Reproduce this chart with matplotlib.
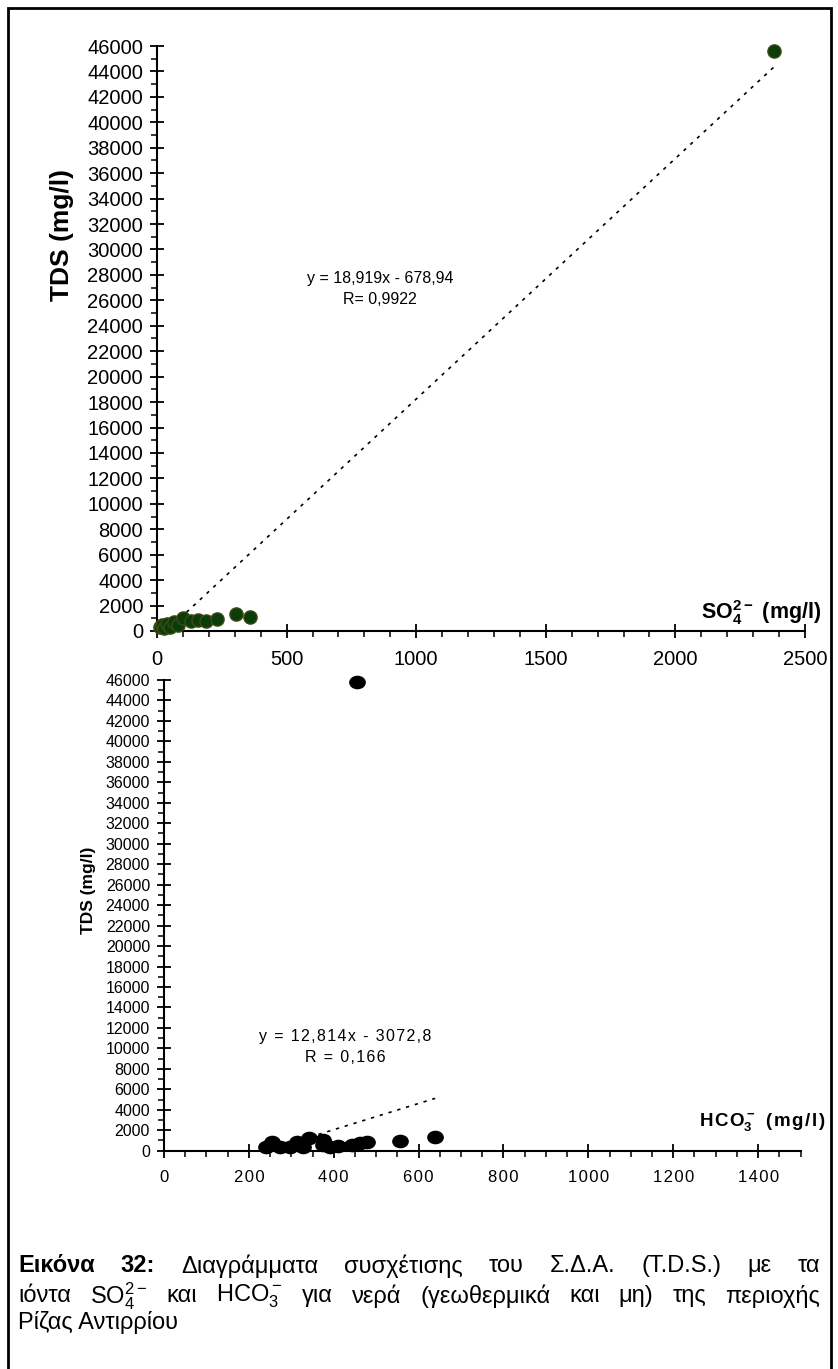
import matplotlib
matplotlib.use("Agg")
import matplotlib.pyplot as plt
from matplotlib.ticker import MultipleLocator, FuncFormatter
from matplotlib.path import Path
from matplotlib.patches import Rectangle
import numpy as np

plt.rcParams['font.family'] = ['Liberation Sans', 'DejaVu Sans']
plt.rcParams['mathtext.fontset'] = 'custom'
plt.rcParams['mathtext.rm'] = 'Liberation Sans'
plt.rcParams['mathtext.bf'] = 'Liberation Sans:bold'
plt.rcParams['mathtext.default'] = 'regular'

# ---- data: top chart (SO4 vs TDS) ----
so4 = [10, 18, 28, 40, 52, 65, 80, 100, 130, 160, 190, 230, 305, 360, 2380]
tds_so4 = [300, 450, 250, 550, 350, 700, 500, 1000, 800, 900, 750, 950, 1300, 1100, 45600]
so4_slope, so4_icpt = 18.919, -678.94
so4_eq = ["y = 18,919x - 678,94", "R= 0,9922"]

# ---- data: bottom chart (HCO3 vs TDS) ----
hco3 = [240, 254, 273, 297, 313, 328, 342, 374, 375, 391, 410, 442, 462, 478, 556, 639, 455]
tds_hco3 = [390, 880, 390, 390, 880, 390, 1240, 1050, 560, 390, 460, 590, 750, 880, 980, 1370, 45800]
hco3_slope, hco3_icpt = 12.814, -3072.8
hco3_eq = ["y = 12,814x - 3072,8", "R = 0,166"]

top_xticks = [0, 500, 1000, 1500, 2000, 2500]
bot_xticks = [0, 200, 400, 600, 800, 1000, 1200, 1400]
yticks = list(range(0, 46001, 2000))

HS = '\u200a'


def spaced(s):
    return HS.join(s)


W, H = 838, 1369
fig = plt.figure(figsize=(W / 100, H / 100), dpi=100)


def fx(x):
    return x / W


def fy(y):
    return 1 - y / H


# outer frame
fig.patches.append(Rectangle((fx(8), fy(1380)), fx(831) - fx(8), fy(8) - fy(1380),
                             transform=fig.transFigure, fill=False, lw=2, ec='black'))


def style_axes(ax, fs, xmajor, xminor, pad_x, pad_y):
    for s in ['top', 'right']:
        ax.spines[s].set_visible(False)
    for s in ['left', 'bottom']:
        ax.spines[s].set_linewidth(1.5)
    ax.yaxis.set_major_locator(MultipleLocator(2000))
    ax.yaxis.set_minor_locator(MultipleLocator(1000))
    ax.xaxis.set_major_locator(MultipleLocator(xmajor))
    ax.xaxis.set_minor_locator(MultipleLocator(xminor))
    ax.tick_params(which='major', direction='inout', length=10, width=1.3, labelsize=fs)
    ax.tick_params(which='minor', direction='out', length=4, width=1.1)
    ax.tick_params(axis='x', which='major', pad=pad_x)
    ax.tick_params(axis='y', which='major', pad=pad_y)
    ax.patch.set_alpha(0)


# ---- top chart ----
ax1 = fig.add_axes([fx(157), fy(631), fx(805) - fx(157), fy(46) - fy(631)])
ax1.set_xlim(0, 2500)
ax1.set_ylim(0, 46000)
style_axes(ax1, 14.5, 500, 100, 9, 5)
ax1.set_xticks(top_xticks)
ax1.set_yticks(yticks)
xs = np.array([min(so4), max(so4)], dtype=float)
ax1.plot(xs, so4_slope * xs + so4_icpt, ls=(0, (2, 3.5)), color='black', lw=1.2, zorder=2)
ax1.plot(so4, tds_so4, 'o', ms=9.5, mfc='#0a3d0a', mec='#3f4a12', mew=1, zorder=3, clip_on=False)

fig.text(fx(62), fy(235), "TDS (mg/l)", rotation=90, ha='center', va='center',
         fontsize=19, fontweight='bold')
fig.text(fx(821), fy(613), r"SO$_4^{2-}$ (mg/l)", ha='right', va='center',
         fontsize=15.5, fontweight='bold')
fig.text(fx(380), fy(278), so4_eq[0], ha='center', va='center', fontsize=11.5)
fig.text(fx(380), fy(300), so4_eq[1], ha='center', va='center', fontsize=11.5)

# ---- bottom chart ----
ax2 = fig.add_axes([fx(164), fy(1150.7), fx(800.5) - fx(164), fy(680) - fy(1150.7)])
ax2.set_xlim(0, 1500)
ax2.set_ylim(0, 46000)
style_axes(ax2, 11.5, 200, 50, 9, 5)
ax2.set_xticks(bot_xticks)
ax2.set_yticks(yticks)
ax2.xaxis.set_major_formatter(FuncFormatter(lambda v, p: spaced(str(int(v)))))
ax2.yaxis.set_major_formatter(FuncFormatter(lambda v, p: str(int(v))))
ax2.tick_params(axis='x', labelsize=12)
circ = Path.unit_circle()
ell = Path(circ.vertices * np.array([1.25, 1.0]), circ.codes)
xs2 = np.array([min(hco3), max(hco3[:-1])], dtype=float)
ax2.plot(xs2, hco3_slope * xs2 + hco3_icpt, ls=(0, (2, 3.5)), color='black', lw=1.2, zorder=2)
ax2.plot(hco3, tds_hco3, marker=ell, ls='none', ms=11, mfc='black', mec='black', zorder=3,
         clip_on=False)

fig.text(fx(88), fy(890), "TDS (mg/l)", rotation=90, ha='center', va='center',
         fontsize=12.5, fontweight='bold')
fig.text(fx(825), fy(1122), spaced("HCO") + r"$_3^-$" + HS + spaced(" (mg/l)"),
         ha='right', va='center', fontsize=13.5, fontweight='bold')
fig.text(fx(345), fy(1037), spaced(hco3_eq[0]), ha='center', va='center', fontsize=11.5)
fig.text(fx(345), fy(1057), spaced(hco3_eq[1]), ha='center', va='center', fontsize=11.5)

# ---- caption ----
cap_fs = 17
line1 = [("Εικόνα", 'bold'), ("32:", 'bold'), ("Διαγράμματα", 'normal'), ("συσχέτισης", 'normal'),
         ("του", 'normal'), ("Σ.Δ.Α.", 'normal'), ("(T.D.S.)", 'normal'), ("με", 'normal'),
         ("τα", 'normal')]
line2 = [("ιόντα", 'normal'), (r"SO$_4^{2-}$", 'normal'), ("και", 'normal'),
         (r"HCO$_3^-$", 'normal'), ("για", 'normal'), ("νερά", 'normal'),
         ("(γεωθερμικά", 'normal'), ("και", 'normal'), ("μη)", 'normal'), ("της", 'normal'),
         ("περιοχής", 'normal')]

renderer = fig.canvas.get_renderer()


def justify(words, ypx, x0, x1):
    texts = [fig.text(0, fy(ypx), w, fontsize=cap_fs, fontweight=wt, ha='left', va='center')
             for w, wt in words]
    widths = [t.get_window_extent(renderer).width for t in texts]
    gap = (x1 - x0 - sum(widths)) / (len(words) - 1)
    x = x0
    for t, w in zip(texts, widths):
        t.set_x(fx(x))
        x += w + gap


justify(line1, 1266, 18, 820)
justify(line2, 1296, 18, 820)
fig.text(fx(18), fy(1323), "Ρίζας Αντιρρίου", fontsize=cap_fs, ha='left', va='center')

fig.savefig("out.png", dpi=100)
